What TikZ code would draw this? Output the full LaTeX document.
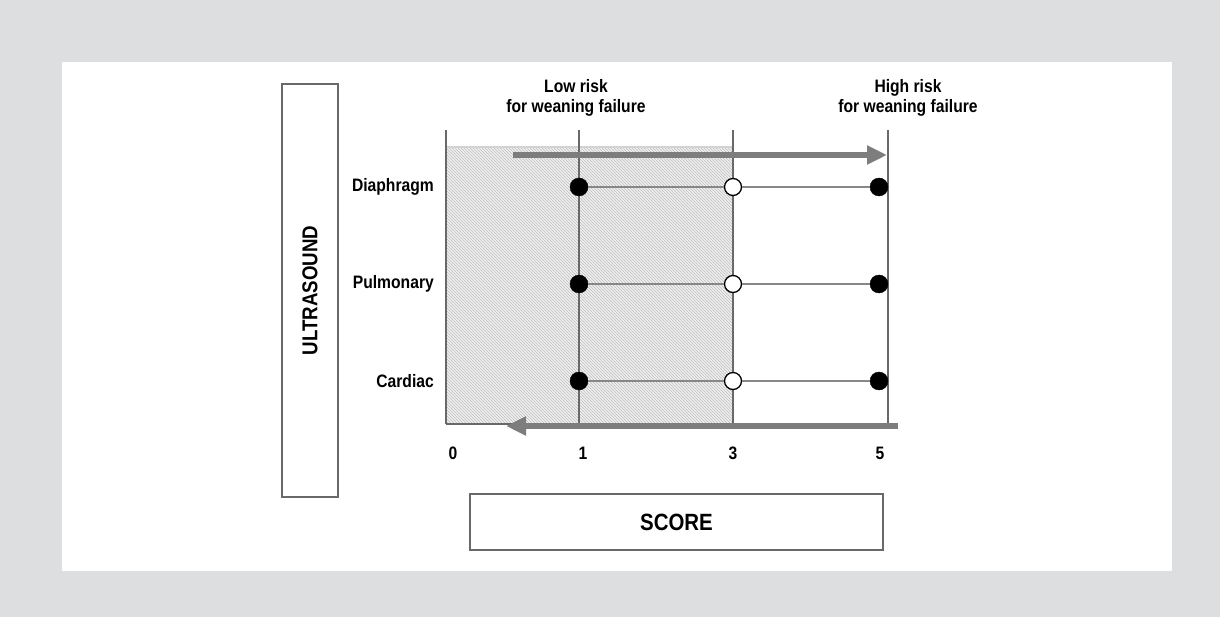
\documentclass[tikz,border=0pt]{standalone}
\usepackage{fontspec}
\setmainfont{Liberation Sans}[FakeStretch=0.87]
\usetikzlibrary{patterns,arrows.meta}
\definecolor{bggray}{RGB}{221,222,224}
\definecolor{linegray}{RGB}{105,105,105}
\definecolor{arrowgray}{RGB}{125,125,125}
\tikzset{basic/.style={draw=linegray,line width=2pt}}
\tikzset{link/.style={draw=linegray!80,line width=1.8pt}}
\tikzset{label/.style={font=\bfseries\fontsize{18}{20.5}\selectfont,align=center,inner sep=0pt}}
\tikzset{titlebox/.style={label,font=\bfseries\fontsize{23.5}{26}\selectfont,
                          draw=linegray,line width=2pt,fill=white,
                          minimum width=413pt,minimum height=56pt}}
\tikzset{fulldot/.style={circle,fill=black,draw=black,inner sep=0pt,minimum size=18pt}}
\tikzset{opendot/.style={circle,fill=white,draw=black,line width=1.3pt,inner sep=0pt,minimum size=17pt}}
\tikzset{bigarrow/.style={draw=arrowgray,line width=6pt,-{Triangle[length=20pt,width=18pt]}}}

\begin{document}
\begin{tikzpicture}[x=1pt,y=-1pt]
    \fill[bggray] (0,0) rectangle (1220,617);
    \fill[white] (62,62) rectangle (1172,571);
    % low score zone
    \fill[gray!12] (446,147) rectangle (733,424);
    \fill[pattern=north west lines,pattern color=gray!50] (446,147) rectangle (733,424);
    \draw[gray!35,line width=1.2pt] (446,147) -- (733,147);
    % score axis
    \foreach \s/\x in {0/446,1/579,3/733,5/888}{%
          \coordinate (top\s) at (\x,130);
          \coordinate (bot\s) at (\x,424);
          \draw[basic] (top\s) -- (bot\s);
        }
    \draw[basic] (bot0) -- (bot5);
    \foreach \s/\x in {0/453,1/583,3/733,5/880}{%
          \node[label] (tick\s) at (\x,453) {\s};
        }
    % rows
    \foreach \row/\y in {Diaphragm/187,Pulmonary/284,Cardiac/381}{%
          \node[label,anchor=east] (l\row) at (434,\y) {\row};
          \node[fulldot] (a\row) at (579,\y) {};
          \node[opendot] (b\row) at (733,\y) {};
          \node[fulldot] (c\row) at (879,\y) {};
          \draw[link] (a\row) -- (b\row);
          \draw[link] (b\row) -- (c\row);
        }
    % arrows
    \coordinate (up0) at (513,155);
    \coordinate (up1) at (887,155);
    \draw[bigarrow] (up0) -- (up1);
    \coordinate (down0) at (898,426);
    \coordinate (down1) at (506,426);
    \draw[bigarrow] (down0) -- (down1);
    % Labels
    \node[label] (low) at (576,98) {Low risk\\for weaning failure};
    \node[label] (high) at (908,98) {High risk\\for weaning failure};
    \node[titlebox,rotate=90,font=\bfseries\fontsize{21.5}{24}\selectfont] (us) at (310,290.5) {ULTRASOUND};
    \node[titlebox] (score) at (676.5,522) {SCORE};
\end{tikzpicture}
\end{document}
